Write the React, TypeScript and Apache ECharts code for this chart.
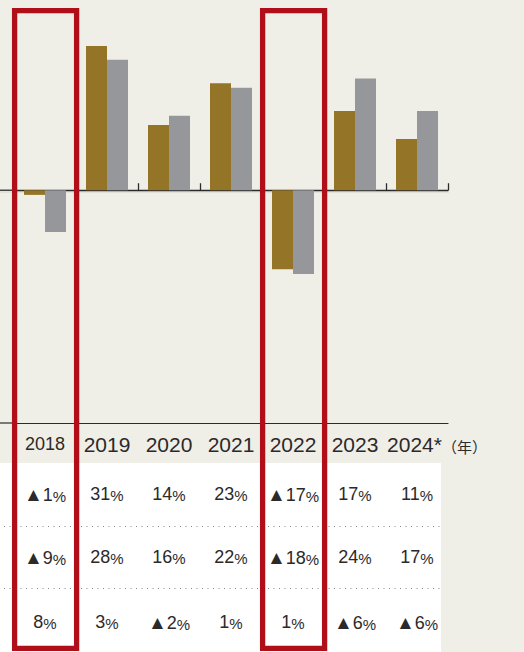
import React, { useEffect, useRef } from 'react';
import * as echarts from 'echarts';

const years = ['2018', '2019', '2020', '2021', '2022', '2023', '2024'];
const seriesA = [-1, 31, 14, 23, -17, 17, 11];
const seriesB = [-9, 28, 16, 22, -18, 24, 17];
const seriesC = [8, 3, -2, 1, 1, -6, -6];
const highlighted = [0, 4];

const BG = '#f0efe7';
const GOLD = '#947427';
const GREY = '#96979b';
const RED = '#b00e19';
const INK = '#2c292a';
const FONT = '"Liberation Sans", Arial, Helvetica, sans-serif';
const CJK = '"Noto Sans CJK JP", "Noto Sans CJK SC", sans-serif';

const ROW_OFFSETS = [71, 134, 199];
const DOT_OFFSETS = [103, 165];
const TABLE_TOP_OFFSET = 40;

function pct(v: number): string {
  return v < 0 ? `{t|▲}{n|${-v}}{p|%}` : `{n|${v}}{p|%}`;
}

const rowRich: any = {
  t: { fontSize: 19, fontFamily: FONT, color: INK, verticalAlign: 'bottom' },
  n: { fontSize: 18, fontFamily: FONT, color: INK, verticalAlign: 'bottom' },
  p: { fontSize: 15, fontFamily: FONT, color: INK, verticalAlign: 'bottom' },
};

const yearRich: any = {
  s: { fontSize: 18, fontFamily: FONT, color: INK, verticalAlign: 'bottom' },
  y: { fontSize: 21, fontFamily: FONT, color: INK, verticalAlign: 'bottom' },
  y2: { fontSize: 21, fontFamily: FONT, color: INK, verticalAlign: 'bottom', padding: [0, 0, 0, 40] },
  u: { fontSize: 15, fontFamily: CJK, color: INK, verticalAlign: 'bottom', padding: [0, 0, 1, 0] },
};

function rowAxis(values: number[], offset: number) {
  return {
    type: 'category',
    gridIndex: 0,
    position: 'bottom',
    offset,
    data: years,
    axisLine: { show: false, onZero: false },
    axisTick: { show: false },
    axisLabel: {
      margin: 0,
      verticalAlign: 'middle',
      interval: 0,
      formatter: (_v: string, i: number) => pct(values[i]),
      rich: rowRich,
    },
  };
}

export default function App() {
  const ref = useRef<HTMLDivElement>(null);
  useEffect(() => {
    if (!ref.current) return;
    const chart = echarts.init(ref.current, null, { renderer: 'svg' });
    const option: any = {
      animation: false,
      backgroundColor: BG,
      grid: { left: 14, right: 76, top: 4, bottom: 229 },
      xAxis: [
        {
          type: 'category',
          position: 'bottom',
          data: years,
          axisLine: { show: true, onZero: true, lineStyle: { color: '#2b2b2b', width: 1.3 } },
          axisTick: { show: true, inside: true, length: 7, lineStyle: { color: '#2b2b2b', width: 1.3 } },
          axisLabel: { show: false },
        },
        {
          type: 'category',
          position: 'bottom',
          data: years,
          axisLine: { show: true, onZero: false, lineStyle: { color: '#2b2b2b', width: 1.2 } },
          axisTick: { show: false },
          axisLabel: {
            margin: 21,
            verticalAlign: 'middle',
            interval: 0,
            formatter: (v: string, i: number) =>
              i === 0 ? `{s|${v}}` : i === years.length - 1 ? `{y2|${v}*}{u|（年）}` : `{y|${v}}`,
            rich: yearRich,
          },
        },
        rowAxis(seriesA, ROW_OFFSETS[0]),
        rowAxis(seriesB, ROW_OFFSETS[1]),
        rowAxis(seriesC, ROW_OFFSETS[2]),
      ],
      yAxis: { type: 'value', min: -50, max: 40, show: false, splitLine: { show: false } },
      series: [
        { type: 'bar', data: seriesA, barWidth: 21, barGap: '0%', itemStyle: { color: GOLD } },
        { type: 'bar', data: seriesB, barWidth: 21, barGap: '0%', itemStyle: { color: GREY } },
      ],
    };
    chart.setOption(option);

    const c0 = chart.convertToPixel({ xAxisIndex: 0 }, years[0]) as number;
    const c1 = chart.convertToPixel({ xAxisIndex: 0 }, years[1]) as number;
    const band = c1 - c0;
    const gridLeft = c0 - band / 2;
    const gridRight = gridLeft + band * years.length;
    const zeroY = chart.convertToPixel({ yAxisIndex: 0 }, 0) as number;
    const bottomY = chart.convertToPixel({ yAxisIndex: 0 }, -50) as number;
    const tableRight = gridRight - 7;

    const graphics: any[] = [
      {
        type: 'rect', z: -100, silent: true,
        shape: { x: 0, y: bottomY + TABLE_TOP_OFFSET, width: tableRight, height: 652 - bottomY - TABLE_TOP_OFFSET },
        style: { fill: '#ffffff' },
      },
      ...DOT_OFFSETS.map((o) => ({
        type: 'line', z: -90, silent: true,
        shape: { x1: 4, y1: bottomY + o + 0.5, x2: tableRight, y2: bottomY + o + 0.5 },
        style: { stroke: '#8a8a8a', lineWidth: 1, lineDash: [1, 4.5] },
      })),
      {
        type: 'line', z: -50, silent: true,
        shape: { x1: 0, y1: zeroY + 1.8, x2: gridRight + 1, y2: zeroY + 1.8 },
        style: { stroke: '#d6d5cd', lineWidth: 1 },
      },
      {
        type: 'line', z: 5, silent: true,
        shape: { x1: 0, y1: zeroY, x2: gridLeft, y2: zeroY },
        style: { stroke: '#2b2b2b', lineWidth: 1.3 },
      },
      {
        type: 'line', z: 5, silent: true,
        shape: { x1: 0, y1: bottomY, x2: gridLeft, y2: bottomY },
        style: { stroke: '#2b2b2b', lineWidth: 1.2 },
      },
      ...highlighted.map((i) => {
        const c = chart.convertToPixel({ xAxisIndex: 0 }, years[i]) as number;
        return {
          type: 'rect', z: 100, silent: true,
          shape: { x: c - band / 2 + 0.6, y: 10.7, width: band, height: 637.6 },
          style: { fill: 'none', stroke: RED, lineWidth: 5.3 },
        };
      }),
    ];
    chart.setOption({ graphic: graphics });

    return () => chart.dispose();
  }, []);

  return (
    <div style={{ position: 'fixed', left: 0, top: 0, width: 524, height: 652, background: BG }}>
      <div ref={ref} style={{ width: 524, height: 652 }} />
    </div>
  );
}
